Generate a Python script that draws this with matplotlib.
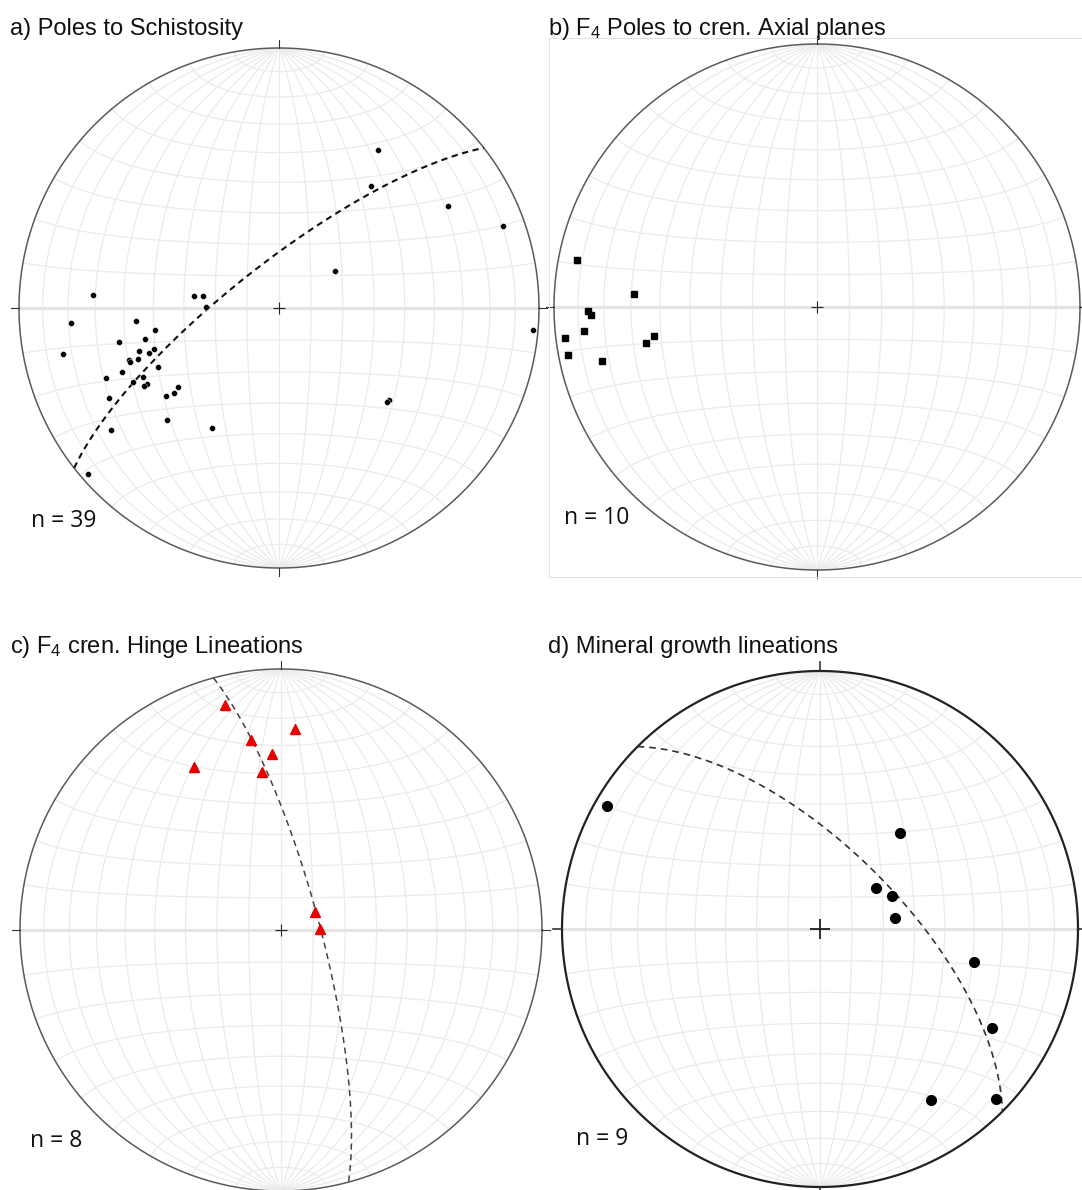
import numpy as np
import matplotlib
matplotlib.use('Agg')
import matplotlib.pyplot as plt
from matplotlib.patches import Rectangle

plt.rcParams['font.family'] = ['Liberation Sans', 'DejaVu Sans']
plt.rcParams['mathtext.fontset'] = 'custom'
plt.rcParams['mathtext.rm'] = 'Liberation Sans'
plt.rcParams['mathtext.it'] = 'Liberation Sans'
plt.rcParams['mathtext.bf'] = 'Liberation Sans'

# ---------------- data (trend, plunge in degrees) ----------------
schist_trend = [32, 37, 59, 70, 56, 274, 278, 279, 271, 95, 266, 265, 260, 258, 257,
                258, 253, 251, 252, 251, 250, 244, 248, 248, 243, 243, 240, 232, 231,
                232, 242, 130, 225, 234, 209, 229, 131, 250, 240]
schist_plunge = [29, 41, 25, 9, 69, 29, 63, 66, 67, 2, 21, 44, 50, 37, 46,
                 16, 43, 46, 48, 39, 42, 47, 35, 29, 41, 37, 41, 49, 47,
                 44, 27, 44, 39, 21, 46, 3, 44, 39, 40]
schist_girdle = (322, 76)          # dip direction, dip of the fitted great circle

axial_trend = [281, 274, 269, 268, 264, 263, 260, 258, 259, 256]
axial_plunge = [8, 31, 14, 15, 12, 4, 37, 34, 4, 17]

hinge_trend = [346, 4, 351, 357, 332, 353, 62, 89]
hinge_plunge = [12, 24, 27, 33, 30, 39, 78, 78]
hinge_plane = (75, 78)

mineral_trend = [300, 40, 54, 65, 82, 102, 120, 147, 134]
mineral_plunge = [5, 50, 68, 65, 66, 39, 24, 22, 6]
mineral_plane = (45, 65)

titles = ['a) Poles to Schistosity', 'b) F$_{4}$ Poles to cren. Axial planes',
          'c) F$_{4}$ cren. Hinge Lineations', 'd) Mineral growth lineations']
counts = ['n = 39', 'n = 10', 'n = 8', 'n = 9']

W, H = 1082, 1190
fig = plt.figure(figsize=(W / 100, H / 100), dpi=100)


def proj_vec(e, n, d):
    f = 1.0 / np.sqrt(1.0 + d)
    return e * f, n * f


def proj_line(trend, plunge):
    t = np.radians(np.asarray(trend, float))
    p = np.radians(np.asarray(plunge, float))
    return proj_vec(np.cos(p) * np.sin(t), np.cos(p) * np.cos(t), np.sin(p))


def great_circle(ddir, dip, n=200):
    dd = np.radians(ddir); dp = np.radians(dip)
    s = np.array([np.sin(dd - np.pi / 2), np.cos(dd - np.pi / 2), 0.0])
    dv = np.array([np.sin(dd) * np.cos(dp), np.cos(dd) * np.cos(dp), np.sin(dp)])
    a = np.linspace(0, np.pi, n)
    v = np.outer(np.cos(a), s) + np.outer(np.sin(a), dv)
    return proj_vec(v[:, 0], v[:, 1], np.clip(v[:, 2], 0, None))


def small_circle_ns(theta, n=200):
    th = np.radians(theta)
    ph = np.linspace(0, np.pi, n)
    e = np.sin(th) * np.cos(ph)
    nn = np.full_like(ph, np.cos(th))
    d = np.sin(th) * np.sin(ph)
    return proj_vec(e, nn, d)


def make_net(cx, cy, R, rim_color='#5a5a5a', rim_lw=1.1, cross_ms=9, cross_lw=0.8,
             tick_lw=0.8, tick_len=0.03):
    ax = fig.add_axes([(cx - 1.1 * R) / W, 1 - (cy + 1.1 * R) / H, 2.2 * R / W, 2.2 * R / H])
    ax.set_xlim(-1.1, 1.1); ax.set_ylim(-1.1, 1.1)
    ax.set_aspect('equal'); ax.axis('off')
    gc = '#ebebeb'
    for dip in range(10, 90, 10):
        for ddir in (90, 270):
            x, y = great_circle(ddir, dip)
            ax.plot(x, y, color=gc, lw=0.9, zorder=1)
    ax.plot([0, 0], [-1, 1], color=gc, lw=0.9, zorder=1)
    for th in range(10, 180, 10):
        if th == 90:
            continue
        x, y = small_circle_ns(th)
        ax.plot(x, y, color=gc, lw=0.9, zorder=1)
    ax.plot([-1, 1], [0, 0], color='#e3e3e3', lw=2.2, zorder=1)
    t = np.linspace(0, 2 * np.pi, 500)
    ax.plot(np.cos(t), np.sin(t), color=rim_color, lw=rim_lw, zorder=3)
    for (ux, uy) in ((0, 1), (0, -1), (1, 0), (-1, 0)):
        ax.plot([ux, ux * (1 + tick_len)], [uy, uy * (1 + tick_len)], color='#333333',
                lw=tick_lw, clip_on=False, zorder=3)
    ax.plot([0], [0], marker='+', color='#222222', ms=cross_ms, mew=cross_lw, zorder=4)
    return ax


# ---- panel a
ax = make_net(279, 308, 260)
x, y = great_circle(*schist_girdle)
ax.plot(x, y, color='#111111', lw=1.5, ls=(0, (3, 2.2)), zorder=5)
x, y = proj_line(schist_trend, schist_plunge)
ax.plot(x, y, 'o', color='black', ms=4.3, mec='white', mew=0.3, ls='none', zorder=6)

# ---- panel b
fig.patches.append(Rectangle((549 / W, 1 - 577 / H), (W + 10 - 549) / W, (577 - 38) / H,
                             transform=fig.transFigure, fill=False, ec='#e2e2e2', lw=0.8))
ax = make_net(817, 307, 263)
x, y = proj_line(axial_trend, axial_plunge)
ax.plot(x, y, 's', color='black', ms=5, ls='none', zorder=6)

# ---- panel c
ax = make_net(281, 930, 261)
x, y = great_circle(*hinge_plane)
ax.plot(x, y, color='#444444', lw=1.1, ls=(0, (4, 3)), zorder=5)
x, y = proj_line(hinge_trend, hinge_plunge)
ax.plot(x, y, '^', color='#e60000', ms=6.5, ls='none', zorder=6)

# ---- panel d
ax = make_net(820, 929, 258, rim_color='#222222', rim_lw=1.6, cross_ms=14, cross_lw=1.3,
              tick_lw=1.2, tick_len=0.035)
x, y = great_circle(*mineral_plane)
ax.plot(x, y, color='#333333', lw=1.2, ls=(0, (4, 3)), zorder=5)
x, y = proj_line(mineral_trend, mineral_plunge)
ax.plot(x, y, 'o', color='black', ms=7, ls='none', zorder=6)

# ---- text
title_pos = [(10, 35), (548, 35), (10, 653), (548, 653)]
for (tx, ty), s in zip(title_pos, titles):
    fig.text(tx / W, 1 - ty / H, s, fontsize=17, ha='left', va='baseline', color='#111111')
count_pos = [(31, 527), (564, 524), (30, 1147), (576, 1145)]
for (tx, ty), s in zip(count_pos, counts):
    fig.text(tx / W, 1 - ty / H, s, fontsize=16.5, ha='left', va='baseline', color='#111111',
             family=['Open Sans', 'DejaVu Sans'])

fig.savefig('out.png', dpi=100, facecolor='white')
